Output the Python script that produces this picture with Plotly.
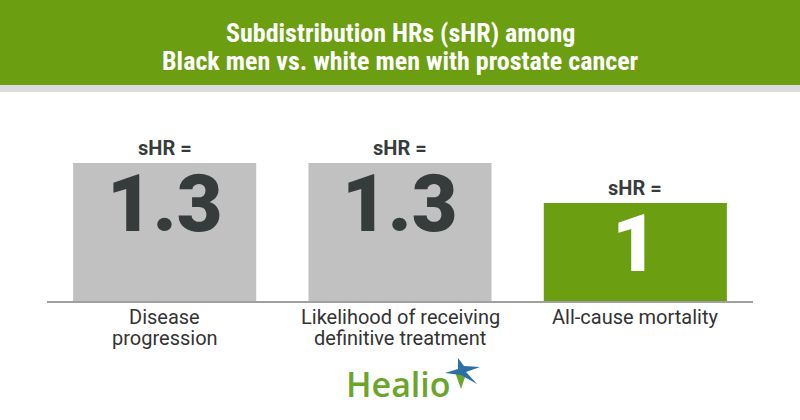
import plotly.graph_objects as go

categories = ["Disease progression", "Likelihood of receiving definitive treatment", "All-cause mortality"]
category_lines = [["Disease", "progression"], ["Likelihood of receiving", "definitive treatment"], ["All-cause mortality"]]
values = [1.3, 1.3, 1.0]
value_labels = ["1.3", "1.3", "1"]
bar_colors = ["#c1c1c1", "#c1c1c1", "#6b9e10"]
label_colors = ["#363c3c", "#363c3c", "#ffffff"]
title_lines = ["Subdistribution HRs (sHR) among", "Black men vs. white men with prostate cancer"]
prefix = "sHR ="

W, H = 800, 420
ML, MR, MT, MB = 47, 47, 100, 119
PW, PH = W - ML - MR, H - MT - MB

def px(x):
    return (x - ML) / PW

def py(y):
    return (H - MB - y) / PH

fig = go.Figure()
fig.add_trace(go.Bar(
    x=categories, y=values, marker=dict(color=bar_colors, line=dict(width=0)),
    hoverinfo="skip",
))

ann = []
for c, v, lab, lc, lines in zip(categories, values, value_labels, label_colors, category_lines):
    ann.append(dict(x=c, y=v, xref="x", yref="y", text=prefix, showarrow=False,
                    yanchor="bottom", yshift=1,
                    font=dict(family="Roboto", size=20, color="#363c3c", weight="bold")))
    ann.append(dict(x=c, y=v, xref="x", yref="y", text=lab, showarrow=False,
                    yanchor="middle", yshift=-41,
                    font=dict(family="Roboto", size=79, color=lc, weight=900)))
    for k, ln in enumerate(lines):
        ann.append(dict(x=c, y=py(317 + 21 * k), xref="x", yref="paper", text=ln, showarrow=False,
                        xanchor="center", yanchor="middle",
                        font=dict(family="Roboto", size=20, color="#333333")))

for t, yy in zip(title_lines, [33, 61]):
    ann.append(dict(x=0.5, y=py(yy), xref="paper", yref="paper", text=t, showarrow=False,
                    xanchor="center", yanchor="middle",
                    font=dict(family="Liberation Sans Narrow, Roboto Condensed, Roboto", size=26,
                              color="#ffffff", weight="bold")))

ann.append(dict(x=px(344), y=py(384), xref="paper", yref="paper", text="Healio", showarrow=False,
                xanchor="left", yanchor="middle",
                font=dict(family="Open Sans", size=34, color="#6aa62a", weight=600)))

shapes = [
    dict(type="rect", xref="paper", yref="paper", x0=px(0), x1=px(W), y0=py(0), y1=py(85),
         fillcolor="#6b9e10", line=dict(width=0), layer="below"),
    dict(type="rect", xref="paper", yref="paper", x0=px(0), x1=px(W), y0=py(85), y1=py(92),
         fillcolor="#dcdcdc", line=dict(width=0), layer="below"),
]

def path(pts):
    return "M " + " L ".join(f"{px(a):.5f},{py(b):.5f}" for a, b in pts) + " Z"

green_ray = [(455, 372), (466, 374), (461, 389)]
shapes.append(dict(type="path", xref="paper", yref="paper", path=path(green_ray),
                   fillcolor="#6aa62a", line=dict(width=0)))
star = [(458, 358), (464, 366), (480, 367), (466, 372), (477, 384), (461, 375),
        (445, 373), (458, 369)]
shapes.append(dict(type="path", xref="paper", yref="paper", path=path(star),
                   fillcolor="#2d6ea6", line=dict(width=0)))

fig.update_layout(
    width=W, height=H, margin=dict(l=ML, r=MR, t=MT, b=MB),
    paper_bgcolor="#ffffff", plot_bgcolor="#ffffff",
    bargap=0.222, showlegend=False,
    annotations=ann, shapes=shapes,
    xaxis=dict(showline=True, linecolor="#a0a0a0", linewidth=1.5, showgrid=False,
               ticks="", showticklabels=False, fixedrange=True),
    yaxis=dict(range=[0.265, 1.7725], visible=False, showgrid=False, fixedrange=True),
)

fig.write_html("out.html", config={"displayModeBar": False})
